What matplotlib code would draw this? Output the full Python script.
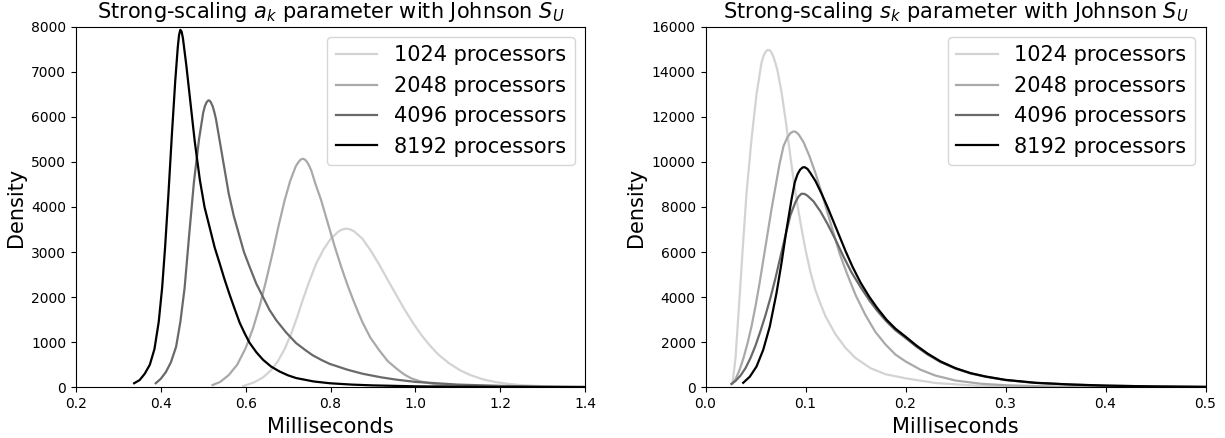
import matplotlib
matplotlib.use("Agg")
import matplotlib.pyplot as plt

# ---------------- data: a_k parameter (left panel) ----------------
processors = ["1024", "2048", "4096", "8192"]
colors = ["#d3d3d3", "#a9a9a9", "#696969", "#000000"]

a_x_1024 = [0.594, 0.620, 0.641, 0.660, 0.676, 0.692, 0.707, 0.720, 0.735, 0.750, 0.766, 0.783,
            0.800, 0.818, 0.827, 0.837, 0.846, 0.855, 0.875, 0.895, 0.915, 0.935, 0.955, 0.975,
            0.995, 1.015, 1.035, 1.055, 1.080, 1.105, 1.130, 1.160, 1.190, 1.220, 1.250, 1.300,
            1.350, 1.400]
a_y_1024 = [25, 110, 220, 380, 580, 850, 1180, 1520, 1950, 2350, 2740, 3050,
            3290, 3450, 3500, 3520, 3505, 3465, 3300, 3030, 2720, 2380, 2050, 1720,
            1420, 1150, 920, 720, 530, 380, 270, 175, 115, 75, 48, 25,
            13, 7]

a_x_2048 = [0.522, 0.540, 0.560, 0.580, 0.600, 0.617, 0.633, 0.649, 0.664, 0.678, 0.692, 0.705,
            0.718, 0.724, 0.730, 0.735, 0.740, 0.745, 0.750, 0.755, 0.765, 0.778, 0.795, 0.810,
            0.825, 0.840, 0.853, 0.865, 0.876, 0.894, 0.915, 0.935, 0.955, 0.973, 0.990, 1.012,
            1.051, 1.100, 1.200, 1.300, 1.400]
a_y_2048 = [50, 120, 270, 500, 870, 1300, 1800, 2400, 3000, 3600, 4150, 4580,
            4900, 4990, 5055, 5070, 5050, 4995, 4910, 4800, 4500, 4150, 3600, 3120,
            2680, 2270, 1950, 1670, 1430, 1100, 820, 580, 420, 290, 200, 130,
            60, 25, 6, 2, 1]

a_x_4096 = [0.388, 0.400, 0.412, 0.424, 0.436, 0.446, 0.456, 0.467, 0.478, 0.490, 0.500, 0.504,
            0.508, 0.512, 0.515, 0.518, 0.522, 0.526, 0.530, 0.540, 0.550, 0.560, 0.572, 0.584,
            0.596, 0.609, 0.625, 0.641, 0.656, 0.672, 0.695, 0.719, 0.740, 0.758, 0.780, 0.798,
            0.840, 0.876, 0.920, 0.955, 1.000, 1.100, 1.200, 1.300, 1.400]
a_y_4096 = [90, 190, 340, 560, 900, 1450, 2200, 3400, 4550, 5500, 6100, 6240,
            6325, 6365, 6360, 6320, 6240, 6110, 5950, 5400, 4850, 4300, 3800, 3400,
            3000, 2680, 2300, 2000, 1720, 1490, 1220, 980, 830, 710, 600, 520,
            390, 300, 220, 170, 120, 60, 32, 18, 10]

a_x_8192 = [0.337, 0.350, 0.362, 0.374, 0.385, 0.395, 0.403, 0.410, 0.418, 0.426, 0.434, 0.440,
            0.443, 0.446, 0.449, 0.452, 0.460, 0.470, 0.480, 0.492, 0.503, 0.515, 0.527, 0.539,
            0.550, 0.562, 0.574, 0.586, 0.598, 0.609, 0.625, 0.641, 0.660, 0.680, 0.700, 0.719,
            0.760, 0.798, 0.850, 0.900, 1.000, 1.100, 1.200, 1.300, 1.400]
a_y_8192 = [90, 160, 300, 500, 850, 1450, 2200, 3100, 4300, 5600, 6800, 7550,
            7820, 7930, 7890, 7750, 7150, 6300, 5450, 4600, 4000, 3550, 3100, 2740,
            2400, 2060, 1740, 1430, 1190, 990, 780, 610, 460, 350, 265, 205,
            130, 90, 60, 42, 22, 13, 8, 5, 3]

# ---------------- data: s_k parameter (right panel) ----------------
s_x_1024 = [0.027, 0.030, 0.0335, 0.037, 0.041, 0.046, 0.051, 0.056, 0.058, 0.060, 0.062, 0.064,
            0.066, 0.068, 0.070, 0.072, 0.076, 0.080, 0.085, 0.090, 0.095, 0.100, 0.105, 0.110,
            0.115, 0.120, 0.130, 0.140, 0.150, 0.165, 0.180, 0.200, 0.230, 0.270, 0.320, 0.400,
            0.500]
s_y_1024 = [150, 1300, 3600, 6000, 8600, 11000, 13000, 14400, 14700, 14880, 14970, 14960,
            14860, 14650, 14380, 14050, 13100, 11900, 10200, 8600, 7300, 6100, 5100, 4300,
            3700, 3150, 2350, 1750, 1300, 850, 580, 400, 190, 75, 25, 6,
            2]

s_x_2048 = [0.026, 0.030, 0.0343, 0.038, 0.042, 0.046, 0.050, 0.054, 0.058, 0.062, 0.066, 0.070,
            0.074, 0.078, 0.082, 0.085, 0.0877, 0.090, 0.093, 0.098, 0.104, 0.110, 0.116, 0.122,
            0.128, 0.134, 0.141, 0.150, 0.160, 0.170, 0.180, 0.190, 0.200, 0.215, 0.230, 0.250,
            0.275, 0.300, 0.350, 0.400, 0.450, 0.500]
s_y_2048 = [150, 350, 800, 1300, 1950, 2700, 3600, 4600, 5700, 6800, 7900, 8900,
            9900, 10700, 11100, 11280, 11350, 11340, 11230, 10880, 10250, 9500, 8650, 7750,
            6850, 5950, 5100, 4100, 3200, 2450, 1900, 1450, 1150, 780, 520, 300,
            160, 90, 30, 12, 5, 2]

s_x_4096 = [0.026, 0.030, 0.035, 0.040, 0.045, 0.050, 0.055, 0.060, 0.065, 0.070, 0.075, 0.080,
            0.085, 0.090, 0.093, 0.096, 0.099, 0.102, 0.108, 0.115, 0.122, 0.130, 0.138, 0.146,
            0.155, 0.164, 0.172, 0.181, 0.190, 0.200, 0.211, 0.222, 0.235, 0.250, 0.265, 0.280,
            0.300, 0.330, 0.365, 0.400, 0.450, 0.500]
s_y_4096 = [150, 280, 520, 850, 1300, 1850, 2500, 3200, 3980, 4850, 5800, 6750,
            7650, 8220, 8460, 8590, 8580, 8500, 8250, 7800, 7250, 6550, 5800, 5100,
            4450, 3850, 3380, 2920, 2530, 2190, 1800, 1460, 1120, 830, 615, 470,
            320, 195, 120, 73, 37, 20]

s_x_8192 = [0.0377, 0.0443, 0.051, 0.0577, 0.0643, 0.071, 0.076, 0.081, 0.086, 0.0893, 0.092, 0.0945,
            0.097, 0.099, 0.102, 0.105, 0.110, 0.116, 0.122, 0.128, 0.134, 0.140, 0.147, 0.155,
            0.164, 0.172, 0.181, 0.190, 0.200, 0.211, 0.222, 0.235, 0.250, 0.265, 0.280, 0.300,
            0.330, 0.365, 0.400, 0.450, 0.500]
s_y_8192 = [200, 470, 920, 1660, 2700, 4180, 5510, 6990, 8330, 9100, 9450, 9650,
            9750, 9770, 9690, 9500, 9150, 8600, 8000, 7350, 6700, 6050, 5350, 4650,
            4000, 3500, 3000, 2600, 2250, 1850, 1500, 1150, 850, 630, 480, 330,
            200, 125, 75, 38, 20]

a_series = [(a_x_1024, a_y_1024), (a_x_2048, a_y_2048), (a_x_4096, a_y_4096), (a_x_8192, a_y_8192)]
s_series = [(s_x_1024, s_y_1024), (s_x_2048, s_y_2048), (s_x_4096, s_y_4096), (s_x_8192, s_y_8192)]

a_xticks = [0.2, 0.4, 0.6, 0.8, 1.0, 1.2, 1.4]
a_yticks = [0, 1000, 2000, 3000, 4000, 5000, 6000, 7000, 8000]
s_xticks = [0.0, 0.1, 0.2, 0.3, 0.4, 0.5]
s_yticks = [0, 2000, 4000, 6000, 8000, 10000, 12000, 14000, 16000]

# ---------------- figure ----------------
W, H = 1225, 438
fig = plt.figure(figsize=(W / 100, H / 100), dpi=100)
ax1 = fig.add_axes([76 / W, (H - 387.3) / H, 509 / W, 360.6 / H])
ax2 = fig.add_axes([705.5 / W, (H - 387.3) / H, 500 / W, 360.6 / H])

panels = [
    (ax1, a_series, "Strong-scaling $a_k$ parameter with Johnson $S_U$", (0.2, 1.4), (0, 8000), a_xticks, a_yticks),
    (ax2, s_series, "Strong-scaling $s_k$ parameter with Johnson $S_U$", (0.0, 0.5), (0, 16000), s_xticks, s_yticks),
]

for ax, series, title, xlim, ylim, xt, yt in panels:
    for (xs, ys), p, c in zip(series, processors, colors):
        ax.plot(xs, ys, color=c, lw=1.6, label=f"{p} processors")
    ax.set_xlim(*xlim)
    ax.set_ylim(*ylim)
    ax.set_xticks(xt)
    ax.set_yticks(yt)
    ax.tick_params(labelsize=10)
    ax.set_title(title, fontsize=15)
    ax.set_xlabel("Milliseconds", fontsize=15)
    ax.set_ylabel("Density", fontsize=15)
    ax.legend(loc="upper right", fontsize=15)

fig.savefig("out.png", dpi=100)
